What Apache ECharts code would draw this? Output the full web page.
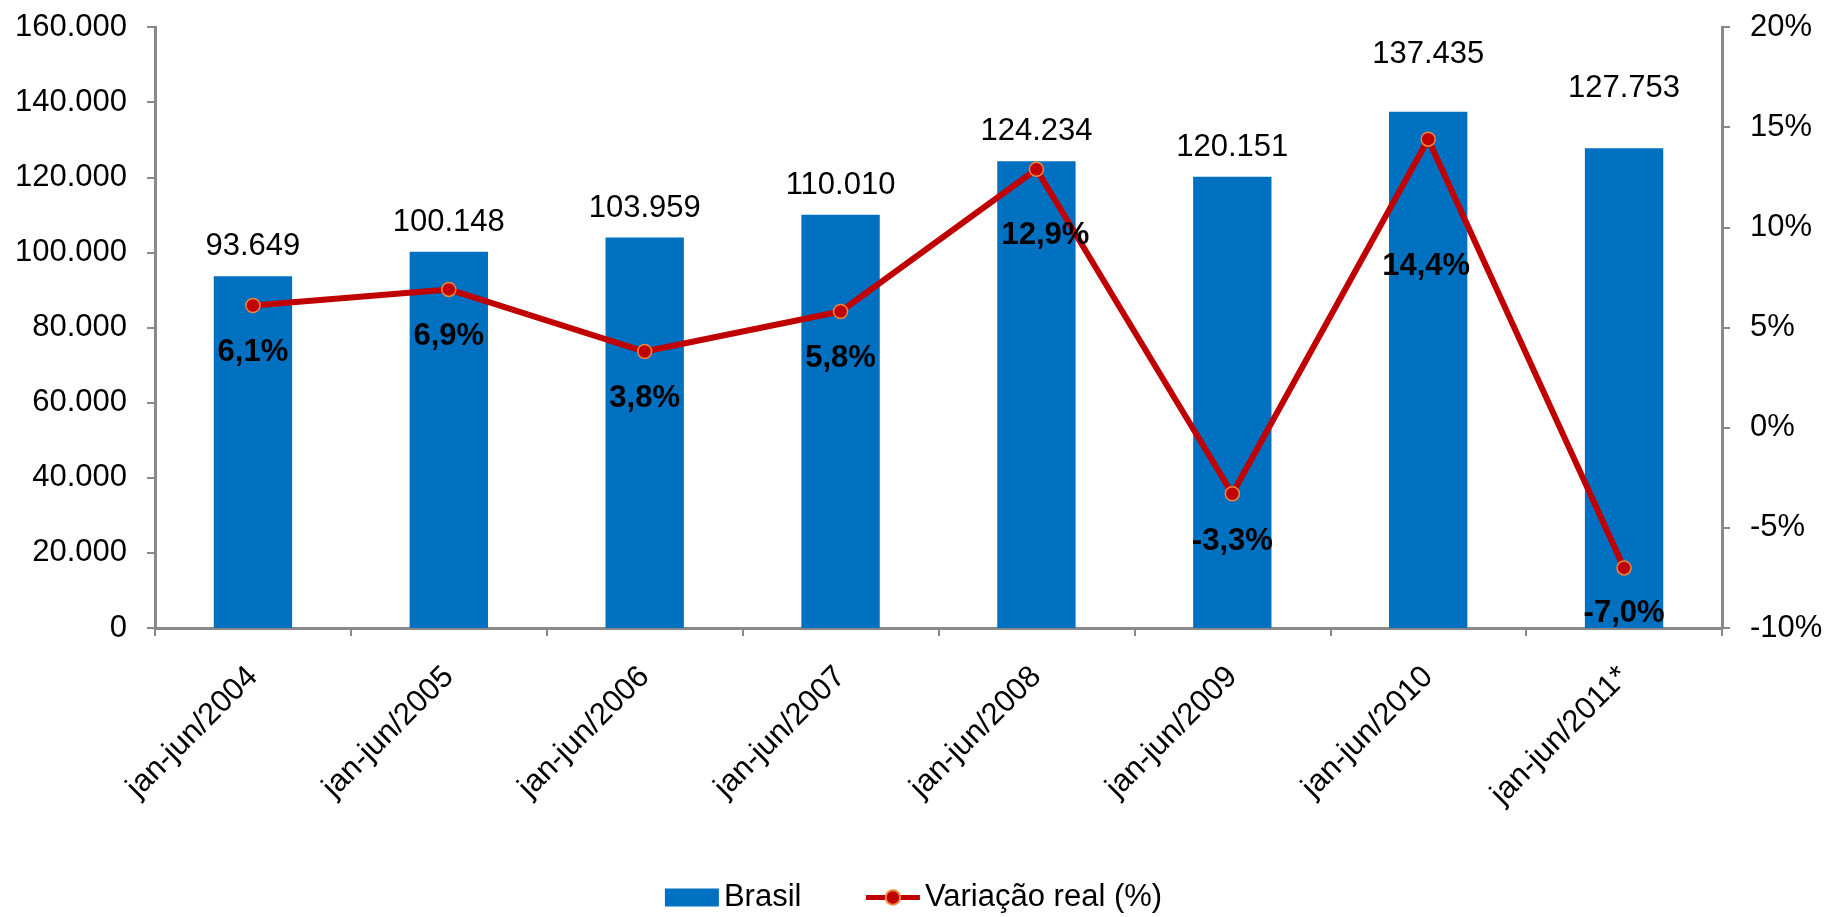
<!DOCTYPE html>
<html>
<head>
<meta charset="utf-8">
<script src="https://cdn.jsdelivr.net/npm/echarts@6/dist/echarts.min.js"></script>
<style>
html,body{margin:0;padding:0;background:#fff;}
#chart{width:1827px;height:917px;}
</style>
</head>
<body>
<div id="chart"></div>
<script>
const categories = ['jan-jun/2004','jan-jun/2005','jan-jun/2006','jan-jun/2007','jan-jun/2008','jan-jun/2009','jan-jun/2010','jan-jun/2011*'];
const brasil = [93649, 100148, 103959, 110010, 124234, 120151, 137435, 127753];
const variacao = [6.1, 6.9, 3.8, 5.8, 12.9, -3.3, 14.4, -7.0];
const seriesNames = ['Brasil', 'Variação real (%)'];

// label placement tweaks (layout, not data)
const barLabelDistance = [14, 14, 14, 14, 14, 14, 42, 44];
const lineLabelDistance = [24, 24, 24, 24, 43, 24, 104, 22];
const lineLabelDx = [0, 0, 0, 0, 9, 0, -2, 0];

const FONT = 'Liberation Sans, Arial, sans-serif';
function fmtThousands(v){
  return String(Math.round(v)).replace(/\B(?=(\d{3})+(?!\d))/g, '.');
}
function fmtPct(v){
  return v.toFixed(1).replace('.', ',') + '%';
}

const chart = echarts.init(document.getElementById('chart'), null, {renderer:'canvas'});
const axisGray = '#898989';
const FS = 31;

chart.setOption({
  animation: false,
  backgroundColor: '#ffffff',
  textStyle: {fontFamily: FONT},
  grid: {left: 155, right: 105, top: 27, bottom: 289, outerBoundsMode: 'none', containLabel: false},
  legend: {
    data: [{name: seriesNames[0], icon: 'rect'}, {name: seriesNames[1]}],
    top: 882,
    left: 'center',
    itemWidth: 54,
    itemHeight: 18,
    itemGap: 62,
    lineStyle: {width: 5},
    textStyle: {fontSize: FS, color: '#000', fontFamily: FONT},
    padding: [0, 0, 0, 0]
  },
  xAxis: {
    type: 'category',
    data: categories,
    boundaryGap: true,
    axisLine: {lineStyle: {color: axisGray, width: 3}},
    axisTick: {show: true, length: 8, lineStyle: {color: axisGray, width: 2}},
    axisLabel: {rotate: 45, margin: 44, fontSize: FS, color: '#000', fontFamily: FONT, interval: 0}
  },
  yAxis: [
    {
      type: 'value', min: 0, max: 160000, interval: 20000,
      axisLine: {show: true, lineStyle: {color: axisGray, width: 3}},
      axisTick: {show: true, length: 8, lineStyle: {color: axisGray, width: 2}},
      splitLine: {show: false},
      axisLabel: {margin: 28, fontSize: FS, color: '#000', fontFamily: FONT, formatter: fmtThousands}
    },
    {
      type: 'value', min: -10, max: 20, interval: 5, position: 'right',
      axisLine: {show: true, lineStyle: {color: axisGray, width: 3}},
      axisTick: {show: true, length: 8, lineStyle: {color: axisGray, width: 2}},
      splitLine: {show: false},
      axisLabel: {margin: 28, fontSize: FS, color: '#000', fontFamily: FONT, formatter: v => v + '%'}
    }
  ],
  series: [
    {
      name: seriesNames[0],
      type: 'bar',
      yAxisIndex: 0,
      barWidth: '40%',
      itemStyle: {color: '#0070C0'},
      data: brasil.map((v, i) => ({
        value: v,
        label: {show: true, position: 'top', distance: barLabelDistance[i]}
      })),
      label: {show: true, position: 'top', fontSize: FS, color: '#000', fontFamily: FONT, formatter: p => fmtThousands(p.value)}
    },
    {
      name: seriesNames[1],
      type: 'line',
      yAxisIndex: 1,
      symbol: 'circle',
      symbolSize: 14,
      lineStyle: {color: '#C00000', width: 6},
      itemStyle: {color: '#C00000', borderColor: '#F0883A', borderWidth: 1.5},
      z: 5,
      data: variacao.map((v, i) => ({
        value: v,
        label: {show: true, position: 'bottom', distance: lineLabelDistance[i], offset: [lineLabelDx[i], 0]}
      })),
      label: {show: true, position: 'bottom', fontSize: FS, fontWeight: 'bold', color: '#000', fontFamily: FONT, formatter: p => fmtPct(p.value)}
    }
  ]
});
</script>
</body>
</html>
